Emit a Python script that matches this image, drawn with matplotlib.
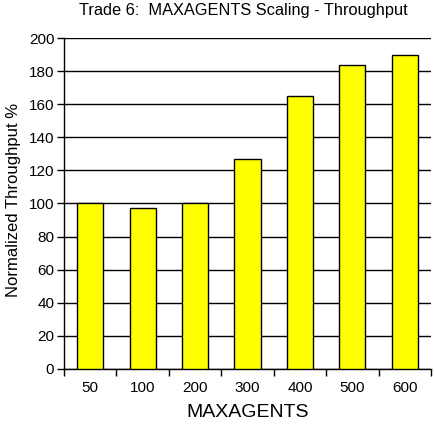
import numpy as np
import matplotlib.pyplot as plt

plt.rcParams['font.family'] = ['Liberation Sans', 'DejaVu Sans']

# data
maxagents = ['50', '100', '200', '300', '400', '500', '600']
throughput = [100, 97, 100, 127, 165, 183.5, 190]
yticks = [0, 20, 40, 60, 80, 100, 120, 140, 160, 180, 200]

fig = plt.figure(figsize=(4.34, 4.28), dpi=100)
ax = fig.add_axes([0.1475, 0.1379, 0.8455, 0.7733])

x = np.arange(len(maxagents))
ax.set_axisbelow(True)
ax.yaxis.grid(True, color='black', linewidth=1)
ax.bar(x, throughput, width=0.5, color='#ffff00', edgecolor='black', linewidth=1, zorder=3)

ax.set_xlim(-0.5, len(maxagents) - 0.5)
ax.set_ylim(0, 200)
ax.set_yticks(yticks)
ax.set_xticks(x)
ax.set_xticklabels(maxagents)
ax.set_xticks(np.arange(len(maxagents) + 1) - 0.5, minor=True)
ax.tick_params(axis='x', which='major', length=0, pad=9, labelsize=11)
ax.tick_params(axis='x', which='minor', length=5, width=1, direction='out')
ax.tick_params(axis='y', length=5, width=1, direction='out', labelsize=11, pad=2)

for side in ['top', 'right']:
    ax.spines[side].set_visible(False)
ax.spines['left'].set_linewidth(1)
ax.spines['bottom'].set_linewidth(1)

ax.set_xlabel('MAXAGENTS', fontsize=14, labelpad=6)
ax.set_ylabel('Normalized Throughput %', fontsize=12)
ax.yaxis.set_label_coords(-0.118, 0.51)
fig.text(0.56, 0.975, 'Trade 6:  MAXAGENTS Scaling - Throughput', ha='center', va='center', fontsize=11.8)

fig.savefig('out.png', dpi=100)
